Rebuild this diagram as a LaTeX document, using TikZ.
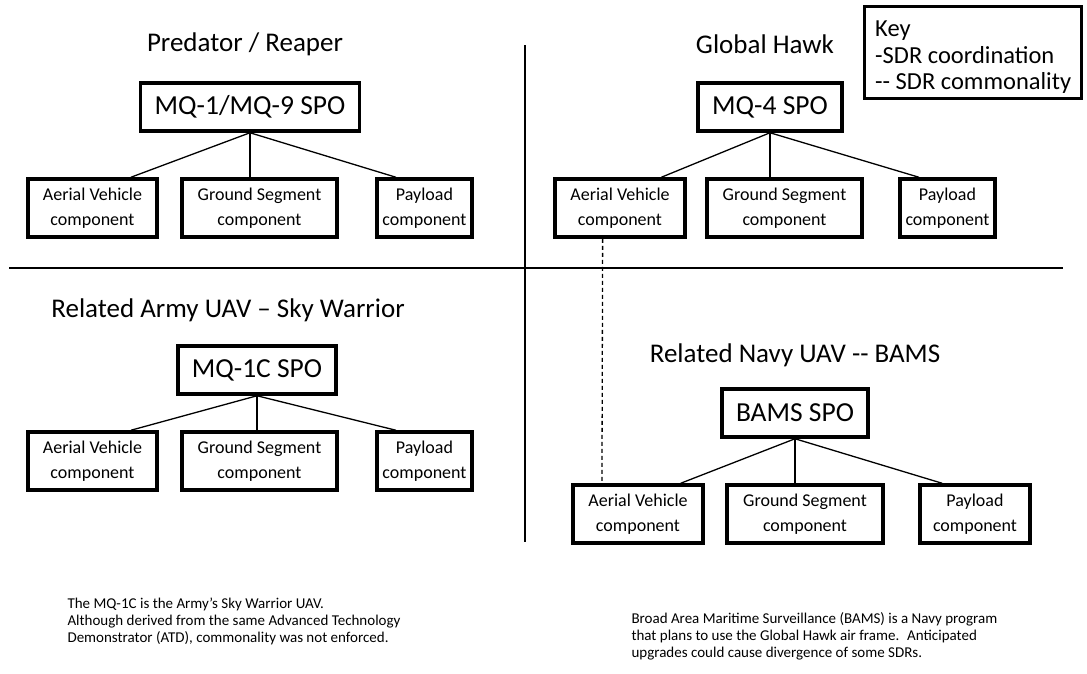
\documentclass[tikz,border=0pt]{standalone}
\usepackage{fontspec}
\setmainfont{Carlito}
\usetikzlibrary{calc}

\begin{document}
\begin{tikzpicture} [x=1pt,y=-1pt,myspo/.style={rectangle, draw, line width=3.5pt, inner xsep=14pt, minimum height=48pt, font=\fontsize{27.5}{29}\selectfont},mycomp/.style={rectangle, draw, line width=3.5pt, minimum height=58pt, align=center, font=\fontsize{18}{25}\selectfont},mytitle/.style={font=\fontsize{27}{29}\selectfont},mynote/.style={anchor=north west, align=left, font=\fontsize{15}{17}\selectfont}]
  \useasboundingbox (0,0) rectangle (1087,673);

  % dividers
  \coordinate (vt) at (525,45);
  \coordinate (vb) at (525,542);
  \coordinate (hl) at (9,268);
  \coordinate (hr) at (1063,268);
  \draw[line width=1.6pt] (vt) -- (vb);
  \draw[line width=1.6pt] (hl) -- (hr);

  % Predator / Reaper
  \node[mytitle] (t1) at (245,44) {Predator / Reaper};
  \node[myspo] (s1) at (250,107) {MQ-1/MQ-9 SPO};
  \node[mycomp, minimum width=129pt] (a1) at (92.5,208) {Aerial Vehicle\\component};
  \node[mycomp, minimum width=155pt] (g1) at (259.5,208) {Ground Segment\\component};
  \node[mycomp, minimum width=95pt] (p1) at (424.5,208) {Payload\\component};

  % Global Hawk
  \node[mytitle] (t2) at (765,44) {Global Hawk};
  \node[myspo] (s2) at (770,107) {MQ-4 SPO};
  \node[mycomp, minimum width=130pt] (a2) at (620,208) {Aerial Vehicle\\component};
  \node[mycomp, minimum width=155pt] (g2) at (784.5,208) {Ground Segment\\component};
  \node[mycomp, minimum width=95pt] (p2) at (947.5,208) {Payload\\component};

  % Sky Warrior
  \node[mytitle] (t3) at (228,310) {Related Army UAV – Sky Warrior};
  \node[myspo] (s3) at (257,370) {MQ-1C SPO};
  \node[mycomp, minimum width=129pt] (a3) at (92.5,461) {Aerial Vehicle\\component};
  \node[mycomp, minimum width=155pt] (g3) at (259.5,461) {Ground Segment\\component};
  \node[mycomp, minimum width=95pt] (p3) at (424.5,461) {Payload\\component};

  % BAMS
  \node[mytitle] (t4) at (795,355) {Related Navy UAV -{}- BAMS};
  \node[myspo] (s4) at (795,413) {BAMS SPO};
  \node[mycomp, minimum width=130pt] (a4) at (638,514) {Aerial Vehicle\\component};
  \node[mycomp, minimum width=156pt] (g4) at (805,514) {Ground Segment\\component};
  \node[mycomp, minimum width=110pt] (p4) at (975,514) {Payload\\component};

  % key
  \node[draw, line width=3pt, anchor=north west, minimum width=217pt, minimum height=92pt] (key) at (863,5) {};
  \node[anchor=north west, align=left, inner sep=0pt, font=\fontsize{24.5}{26.5}\selectfont] (keytxt) at (875,21) {Key\\-SDR coordination\\-{}- SDR commonality};

  % notes
  \node[mynote] (n1) at (64,594) {The MQ-1C is the Army’s Sky Warrior UAV.\\Although derived from the same Advanced Technology\\Demonstrator (ATD), commonality was not enforced.};
  \node[mynote] (n2) at (628,609) {Broad Area Maritime Surveillance (BAMS) is a Navy program\\that plans to use the Global Hawk air frame.~ Anticipated\\upgrades could cause divergence of some SDRs.};

    \draw[line width=1.3pt] (s1.south) -- ($(a1.north west)!0.79!(a1.north east)$);
    \draw[line width=1.3pt] (s1.south) -- (s1.south |- g1.north);
    \draw[line width=1.3pt] (s1.south) -- ($(p1.north west)!0.21!(p1.north east)$);

    \draw[line width=1.3pt] (s2.south) -- ($(a2.north west)!0.81!(a2.north east)$);
    \draw[line width=1.3pt] (s2.south) -- (s2.south |- g2.north);
    \draw[line width=1.3pt] (s2.south) -- ($(p2.north west)!0.21!(p2.north east)$);

    \draw[line width=1.3pt] (s3.south) -- ($(a3.north west)!0.79!(a3.north east)$);
    \draw[line width=1.3pt] (s3.south) -- (s3.south |- g3.north);
    \draw[line width=1.3pt] (s3.south) -- ($(p3.north west)!0.21!(p3.north east)$);

    \draw[line width=1.3pt] (s4.south) -- ($(a4.north west)!0.82!(a4.north east)$);
    \draw[line width=1.3pt] (s4.south) -- (s4.south |- g4.north);
    \draw[line width=1.3pt] (s4.south) -- ($(p4.north west)!0.21!(p4.north east)$);

    \draw[line width=1.3pt, dash pattern=on 4pt off 3pt] ($(a2.south west)!0.37!(a2.south east)$) -- ($(a4.north west)!0.23!(a4.north east)$);

\end{tikzpicture}
\end{document}
